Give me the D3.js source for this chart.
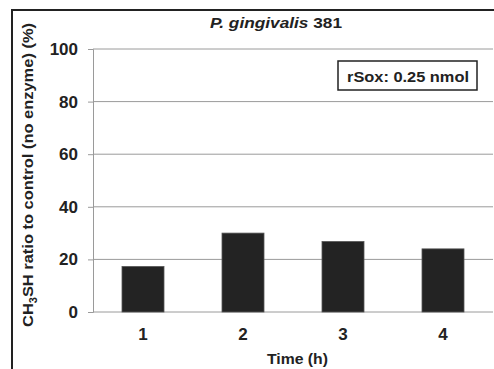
<!DOCTYPE html>
<html>
<head>
<meta charset="utf-8">
<script src="https://cdn.jsdelivr.net/npm/d3@7"></script>
<style>
  body { margin: 0; background: #fff; }
  text { font-family: "Liberation Sans", Arial, sans-serif; font-weight: bold; fill: #222; }
</style>
</head>
<body>
<div id="chart"></div>
<script>
const hours = ['1', '2', '3', '4'];
const ratios = [17.3, 30.0, 26.8, 24.0];
const yTicks = [0, 20, 40, 60, 80, 100];

const width = 494, height = 369;
const svg = d3.select('#chart').append('svg').attr('width', width).attr('height', height);

// outer frame (runs past the right/bottom edges)
svg.append('rect')
    .attr('x', 12).attr('y', 10)
    .attr('width', 500).attr('height', 400)
    .attr('fill', 'none').attr('stroke', '#222').attr('stroke-width', 2);

const x = d3.scaleBand().domain(hours).range([93, 493]).paddingInner(0.58).paddingOuter(0.29);
const y = d3.scaleLinear().domain([0, 100]).range([312, 49]);

// gridlines
svg.append('g')
    .selectAll('line')
    .data(yTicks.filter(d => d > 0))
    .join('line')
    .attr('x1', 93).attr('x2', 493)
    .attr('y1', d => y(d)).attr('y2', d => y(d))
    .attr('stroke', '#9a9a9a').attr('stroke-width', 1);

// left axis
const laxis = svg.append('g')
    .attr('transform', 'translate(93,0)')
    .call(d3.axisLeft(y).tickValues(yTicks).tickSize(5).tickPadding(10));
laxis.select('.domain').attr('stroke', '#9a9a9a');
laxis.selectAll('.tick line').attr('stroke', '#9a9a9a');
laxis.selectAll('.tick text').style('font-size', '17px').attr('fill', '#222');

// baseline
svg.append('line')
    .attr('x1', 93).attr('x2', 493)
    .attr('y1', y(0)).attr('y2', y(0))
    .attr('stroke', '#9a9a9a');

// bars
svg.append('g')
    .selectAll('rect')
    .data(hours)
    .join('rect')
    .attr('x', d => x(d))
    .attr('width', x.bandwidth())
    .attr('y', (d, i) => y(ratios[i]))
    .attr('height', (d, i) => y(0) - y(ratios[i]))
    .attr('fill', '#232323')
    .attr('stroke', '#555').attr('stroke-width', 0.8);

// bottom tick labels
const baxis = svg.append('g')
    .attr('transform', `translate(0,${y(0)})`)
    .call(d3.axisBottom(x).tickSize(0).tickPadding(16));
baxis.select('.domain').remove();
baxis.selectAll('.tick text').style('font-size', '17px').attr('fill', '#222');

svg.append('text')
    .attr('x', 297.5).attr('y', 364)
    .attr('text-anchor', 'middle')
    .attr('textLength', 61).attr('lengthAdjust', 'spacingAndGlyphs')
    .style('font-size', '14px')
    .text('Time (h)');

// y label with subscript
const ylab = svg.append('text')
    .attr('transform', 'translate(33,175) rotate(-90)')
    .attr('text-anchor', 'middle')
    .attr('textLength', 304).attr('lengthAdjust', 'spacingAndGlyphs')
    .style('font-size', '15px');
ylab.append('tspan').text('CH');
ylab.append('tspan').text('3').attr('dy', 4).style('font-size', '10px');
ylab.append('tspan').text('SH ratio to control (no enzyme) (%)').attr('dy', -4);

// title
const title = svg.append('text')
    .attr('x', 276).attr('y', 28)
    .attr('text-anchor', 'middle')
    .attr('textLength', 132).attr('lengthAdjust', 'spacingAndGlyphs')
    .style('font-size', '15px');
title.append('tspan').text('P. gingivalis').style('font-style', 'italic');
title.append('tspan').text(' 381');

// legend box
svg.append('rect')
    .attr('x', 338).attr('y', 61)
    .attr('width', 139).attr('height', 29)
    .attr('fill', '#fff').attr('stroke', '#222').attr('stroke-width', 1.5);
svg.append('text')
    .attr('x', 408).attr('y', 82)
    .attr('text-anchor', 'middle')
    .attr('textLength', 122).attr('lengthAdjust', 'spacingAndGlyphs')
    .style('font-size', '15px')
    .text('rSox: 0.25 nmol');
</script>
</body>
</html>
